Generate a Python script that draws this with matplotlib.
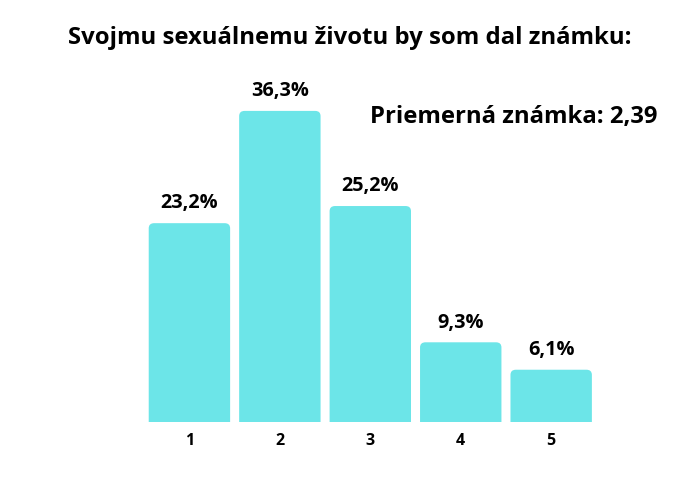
import matplotlib.pyplot as plt
from matplotlib.patches import PathPatch
from matplotlib.path import Path

plt.rcParams['font.family'] = ['Open Sans', 'DejaVu Sans']

grades = ['1', '2', '3', '4', '5']
shares = [23.2, 36.3, 25.2, 9.3, 6.1]
labels = ['23,2%', '36,3%', '25,2%', '9,3%', '6,1%']
title = 'Svojmu sexuálnemu životu by som dal známku:'
note = 'Priemerná známka: 2,39'

color = '#6ce5e8'
width = 0.9
rx, ry = 0.06, 0.6   # corner radius in data units (x, y)


def top_rounded(x0, w, h):
    x1 = x0 + w
    verts = [(x0, 0), (x0, h - ry), (x0, h), (x0 + rx, h),
             (x1 - rx, h), (x1, h), (x1, h - ry), (x1, 0), (x0, 0)]
    codes = [Path.MOVETO, Path.LINETO, Path.CURVE3, Path.CURVE3,
             Path.LINETO, Path.CURVE3, Path.CURVE3, Path.LINETO, Path.CLOSEPOLY]
    return Path(verts, codes)


fig = plt.figure(figsize=(7, 5), dpi=100)
ax = fig.add_axes([0.206, 0.156, 0.646, 0.6856])
ax.set_xlim(-0.5, 4.5)
ax.set_ylim(0, 40)

for i, v in enumerate(shares):
    ax.add_patch(PathPatch(top_rounded(i - width / 2, width, v), fc=color, ec='none'))
    ax.annotate(labels[i], (i, v), xytext=(0, 7), textcoords='offset points',
                ha='center', va='bottom', fontsize=14.3, fontweight='bold')

ax.set_xticks(range(len(grades)))
ax.set_xticklabels(grades, fontsize=11.5, fontweight='bold')
ax.tick_params(axis='x', length=0, pad=8)
ax.set_yticks([])
for s in ax.spines.values():
    s.set_visible(False)

fig.text(0.5, 0.925, title, ha='center', va='center', fontsize=17.2, fontweight='bold')
fig.text(0.939, 0.766, note, ha='right', va='center', fontsize=17.2, fontweight='bold')

fig.savefig('out.png', dpi=100)
